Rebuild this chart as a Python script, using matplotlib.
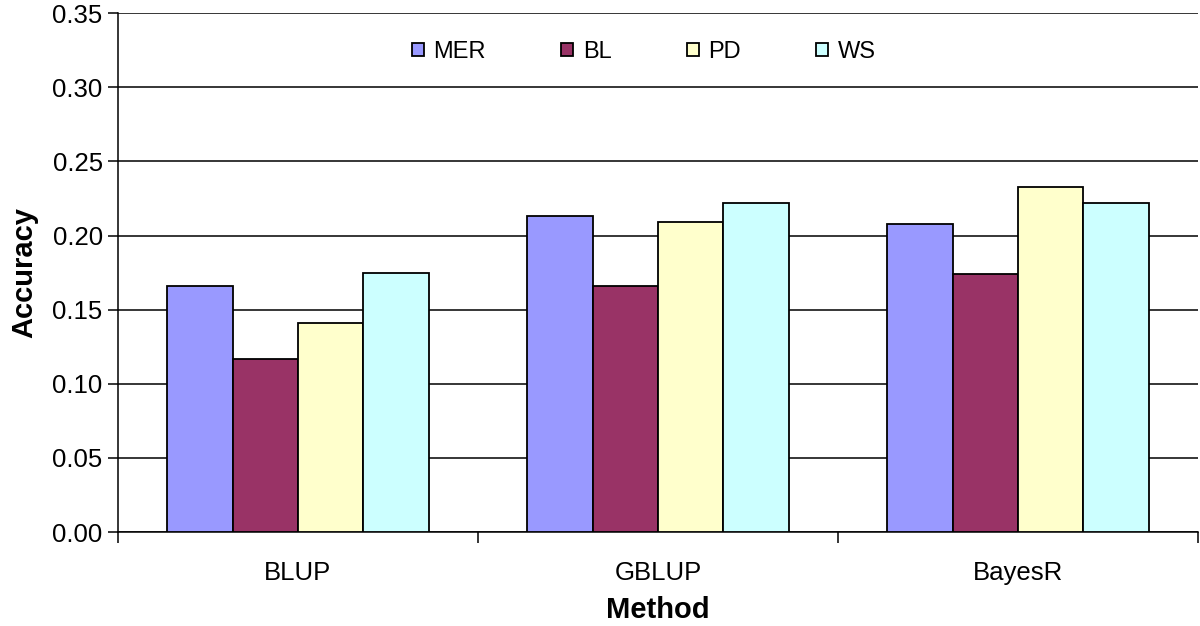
import numpy as np
import matplotlib
matplotlib.use("Agg")
import matplotlib.pyplot as plt

plt.rcParams["font.family"] = ["Liberation Sans", "DejaVu Sans"]

# ---- dados ----
METODOS = ["BLUP", "GBLUP", "BayesR"]
SERIES = ["MER", "BL", "PD", "WS"]
MER = [0.166, 0.213, 0.208]
BL = [0.117, 0.166, 0.174]
PD = [0.141, 0.209, 0.233]
WS = [0.175, 0.222, 0.222]
YTICKS = [0.00, 0.05, 0.10, 0.15, 0.20, 0.25, 0.30, 0.35]

CORES = ["#9999FF", "#993366", "#FFFFCC", "#CCFFFF"]

fig = plt.figure(figsize=(12, 6.26), dpi=100)
ax = fig.add_axes([0.0983, 0.150, 0.9, 0.829])

x = np.arange(len(METODOS))
w = 1 / 5.5
for j, (nome, vals) in enumerate(zip(SERIES, [MER, BL, PD, WS])):
    ax.bar(x + (j - 1.5) * w, vals, w, color=CORES[j], edgecolor="black",
           linewidth=1.3, label=nome, zorder=3)

# eixo y
ax.set_ylim(0, 0.35)
ax.set_yticks(YTICKS)
ax.set_yticklabels([f"{v:.2f}" for v in YTICKS], fontsize=18.5)
ax.grid(axis="y", color="black", lw=1.1, zorder=0)
ax.tick_params(axis="y", direction="out", length=7, width=1.1, pad=4)

# eixo x: ticks nas fronteiras das categorias
ax.set_xlim(-0.5, len(METODOS) - 0.5)
ax.set_xticks(x)
ax.set_xticklabels(METODOS, fontsize=18.5)
ax.tick_params(axis="x", which="major", length=0, pad=21)
ax.set_xticks(np.arange(len(METODOS) + 1) - 0.5, minor=True)
ax.tick_params(axis="x", which="minor", direction="out", length=8, width=1.1)

for s in ["top", "right"]:
    ax.spines[s].set_visible(False)
for s in ["left", "bottom"]:
    ax.spines[s].set_linewidth(1.1)

ax.set_ylabel("Accuracy", fontsize=21, fontweight="bold", labelpad=10)
ax.set_xlabel("Method", fontsize=21, fontweight="bold", labelpad=8)

ax.legend(loc="center", bbox_to_anchor=(0.487, 0.925), ncol=4, frameon=False,
          fontsize=17, handlelength=0.5, handleheight=0.5, handletextpad=0.4,
          columnspacing=3.2)

fig.savefig("out.png", dpi=100)
